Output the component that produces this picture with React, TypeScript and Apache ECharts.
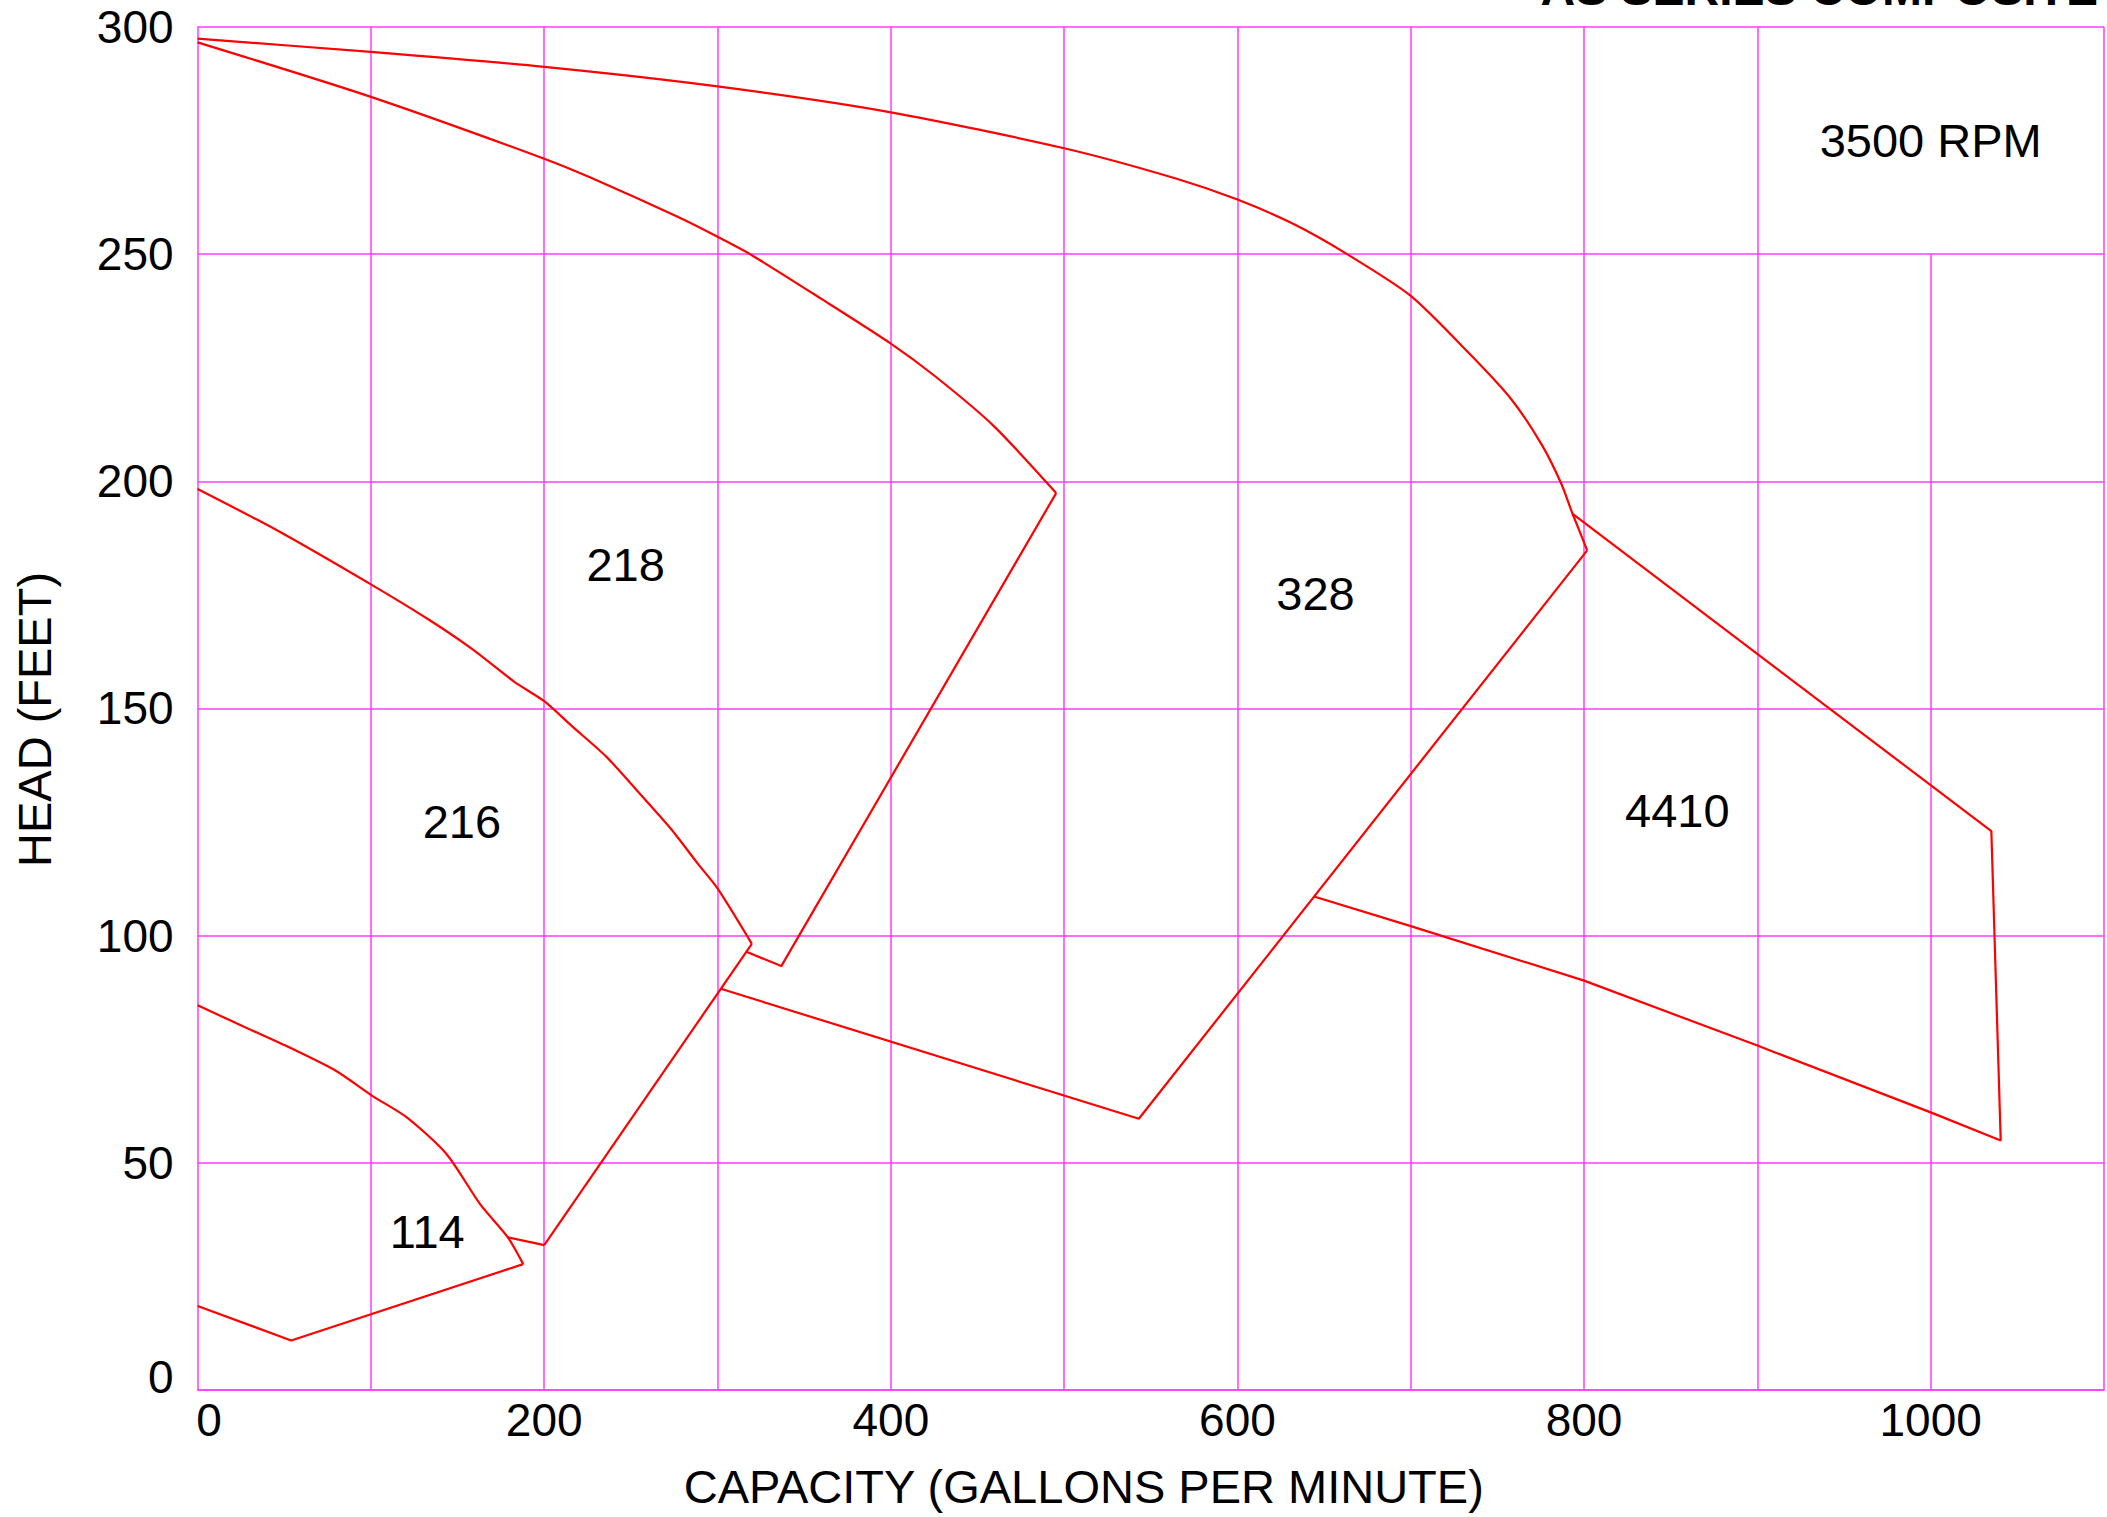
import React, { useEffect, useRef } from 'react';
import * as echarts from 'echarts';

const GRID_COLOR = '#ff3dff';
const CURVE_COLOR = '#ff0000';
const FONT = '"Liberation Sans", Arial, Helvetica, sans-serif';

// Head-capacity curves and operating-region outlines (capacity GPM, head ft)
const curve114 = [[0, 84.7], [26.5, 80.0], [53.4, 75.3], [80, 70.2], [100.5, 64.8], [120.7, 60], [143.7, 51.9], [163, 40.9], [179, 33.6], [187.9, 27.7]];
const outline114 = [[187.9, 27.7], [54, 10.9], [0, 18.5]];
const link114 = [[179, 33.6], [200, 31.9]];

const curve216 = [[0, 198.3], [46.3, 189.1], [100, 177.3], [134.4, 169.3], [158.7, 163], [183, 155.8], [200, 151.6], [216, 146.1], [235.8, 139.4], [255.7, 131], [273.3, 123.4], [288.7, 115.8], [300, 110.4], [319.8, 98.2]];
const edge216 = [[319.8, 98.2], [200, 31.9]];

const curve218 = [[0, 296.6], [100, 284.6], [200, 271], [227, 266.8], [277, 258.2], [300, 253.8], [320, 249.7], [359.7, 240.2], [400, 230.3], [425.9, 223], [459, 212.3], [495.4, 197.4]];
const edge218 = [[495.4, 197.4], [336.8, 93.3], [317, 96.4]];

const curve328 = [[0, 297.4], [100, 294.5], [200, 291.2], [300, 286.9], [400, 281.2], [500, 273.3], [564, 266.7], [600, 262], [632.4, 256.6], [663.2, 250], [700, 240.8], [733.8, 228.1], [758.1, 218], [775.8, 207.9], [786.8, 199.5], [793.4, 192.8], [801.8, 184.8]];
const edge328 = [[801.8, 184.8], [543.1, 59.7], [301.9, 88.3]];

const outline4410 = [[793.4, 192.8], [1035, 123], [1040.4, 54.9], [1000, 61.1], [900, 75.8], [800, 90.1], [700, 102.1], [644.2, 108.6]];

// Region labels
const labelNames = ['114', '216', '218', '328', '4410', '3500 RPM'];
const labelX = [132.5, 152.5, 247, 645, 853.8, 1000];
const labelY = [34.9, 125.2, 181.6, 175.2, 127.5, 274.9];

// Vertical grid lines (capacity) and the head at which each one stops
const gridLinesX = [100, 200, 300, 400, 500, 600, 700, 800, 900, 1000, 1100];
const gridLinesTop = [300, 300, 300, 300, 300, 300, 300, 300, 300, 250, 300];

const xMin = 0, xMax = 1100, xStep = 100, xLabelStep = 200, xLabelMax = 1000;
const yMin = 0, yMax = 300, yStep = 50;

const titleText = 'AS SERIES COMPOSITE';
const xName = 'CAPACITY (GALLONS PER MINUTE)';
const yName = 'HEAD (FEET)';

function lineSeries(name: string, data: number[][], smooth: boolean) {
  return {
    type: 'line',
    name,
    data,
    symbol: 'none',
    showSymbol: false,
    silent: true,
    z: 3,
    smooth: smooth ? 0.25 : false,
    lineStyle: { color: CURVE_COLOR, width: 2.2 },
  };
}

export default function App() {
  const ref = useRef<HTMLDivElement>(null);
  useEffect(() => {
    if (!ref.current) return;
    const chart = echarts.init(ref.current, null, { renderer: 'svg' });
    const option = {
      animation: false,
      backgroundColor: '#ffffff',
      textStyle: { fontFamily: FONT },
      grid: { left: 197.6, right: 1.4, top: 26.9, bottom: 127, containLabel: false },
      xAxis: {
        type: 'value',
        min: xMin,
        max: xMax,
        interval: xStep,
        name: xName,
        nameLocation: 'middle',
        nameGap: 73,
        nameTextStyle: { fontSize: 47, color: '#000', fontFamily: FONT, padding: [0, 134, 0, 0] },
        axisLine: { show: true, lineStyle: { color: GRID_COLOR, width: 1.5 } },
        axisTick: { show: false },
        splitLine: { show: false },
        axisLabel: {
          fontSize: 46,
          color: '#000',
          fontFamily: FONT,
          margin: 7,
          formatter: (v: number) => {
            if (v % xLabelStep !== 0 || v > xLabelMax) return '';
            return v === 0 ? '{z|0}' : String(v);
          },
          rich: { z: { fontSize: 46, color: '#000', fontFamily: FONT, padding: [0, 0, 0, 23] } },
        },
      },
      yAxis: {
        type: 'value',
        min: yMin,
        max: yMax,
        interval: yStep,
        name: yName,
        nameLocation: 'middle',
        nameGap: 140,
        nameRotate: 90,
        nameTextStyle: { fontSize: 47, color: '#000', fontFamily: FONT, padding: [0, 22, 0, 0] },
        axisLine: { show: true, lineStyle: { color: GRID_COLOR, width: 1.5 } },
        axisTick: { show: false },
        splitLine: { show: true, lineStyle: { color: GRID_COLOR, width: 1.5 } },
        axisLabel: {
          fontSize: 46,
          color: '#000',
          fontFamily: FONT,
          margin: 24,
          formatter: (v: number) => (v === 0 ? '{z|0}' : String(v)),
          rich: { z: { fontSize: 46, color: '#000', fontFamily: FONT, padding: [0, 0, 26, 0] } },
        },
      },
      graphic: [
        {
          type: 'text',
          x: 2098,
          y: -12,
          silent: true,
          style: {
            text: titleText,
            align: 'right',
            verticalAlign: 'middle',
            fontSize: 48,
            fontWeight: 'bold',
            fontFamily: FONT,
            fill: '#000',
          },
        },
      ],
      series: [
        {
          type: 'line',
          name: 'grid',
          data: [],
          silent: true,
          z: 1,
          markLine: {
            silent: true,
            z: 1,
            symbol: ['none', 'none'],
            label: { show: false },
            emphasis: { disabled: true },
            lineStyle: { color: GRID_COLOR, width: 1.5, type: 'solid' },
            data: gridLinesX.map((x, i) => [{ coord: [x, yMin] }, { coord: [x, gridLinesTop[i]] }]),
          },
        },
        lineSeries('114 curve', curve114, true),
        lineSeries('114 outline', outline114, false),
        lineSeries('114 link', link114, false),
        lineSeries('216 curve', curve216, true),
        lineSeries('216 edge', edge216, false),
        lineSeries('218 curve', curve218, true),
        lineSeries('218 edge', edge218, false),
        lineSeries('328 curve', curve328, true),
        lineSeries('328 edge', edge328, false),
        lineSeries('4410 outline', outline4410, false),
        {
          type: 'scatter',
          name: 'labels',
          silent: true,
          z: 4,
          symbol: 'circle',
          symbolSize: 1,
          itemStyle: { color: '#ffffff', opacity: 1 },
          data: labelX.map((x, i) => ({ value: [x, labelY[i]], name: labelNames[i] })),
          label: {
            show: true,
            position: 'inside',
            formatter: '{b}',
            fontSize: 47,
            color: '#000000',
            opacity: 1,
            textBorderWidth: 0,
            fontFamily: FONT,
          },
        },
      ],
    };
    chart.setOption(option as any);
    return () => chart.dispose();
  }, []);
  return (
    <div
      ref={ref}
      style={{ position: 'fixed', left: 0, top: 0, width: '2107px', height: '1517px', background: '#fff' }}
    />
  );
}
